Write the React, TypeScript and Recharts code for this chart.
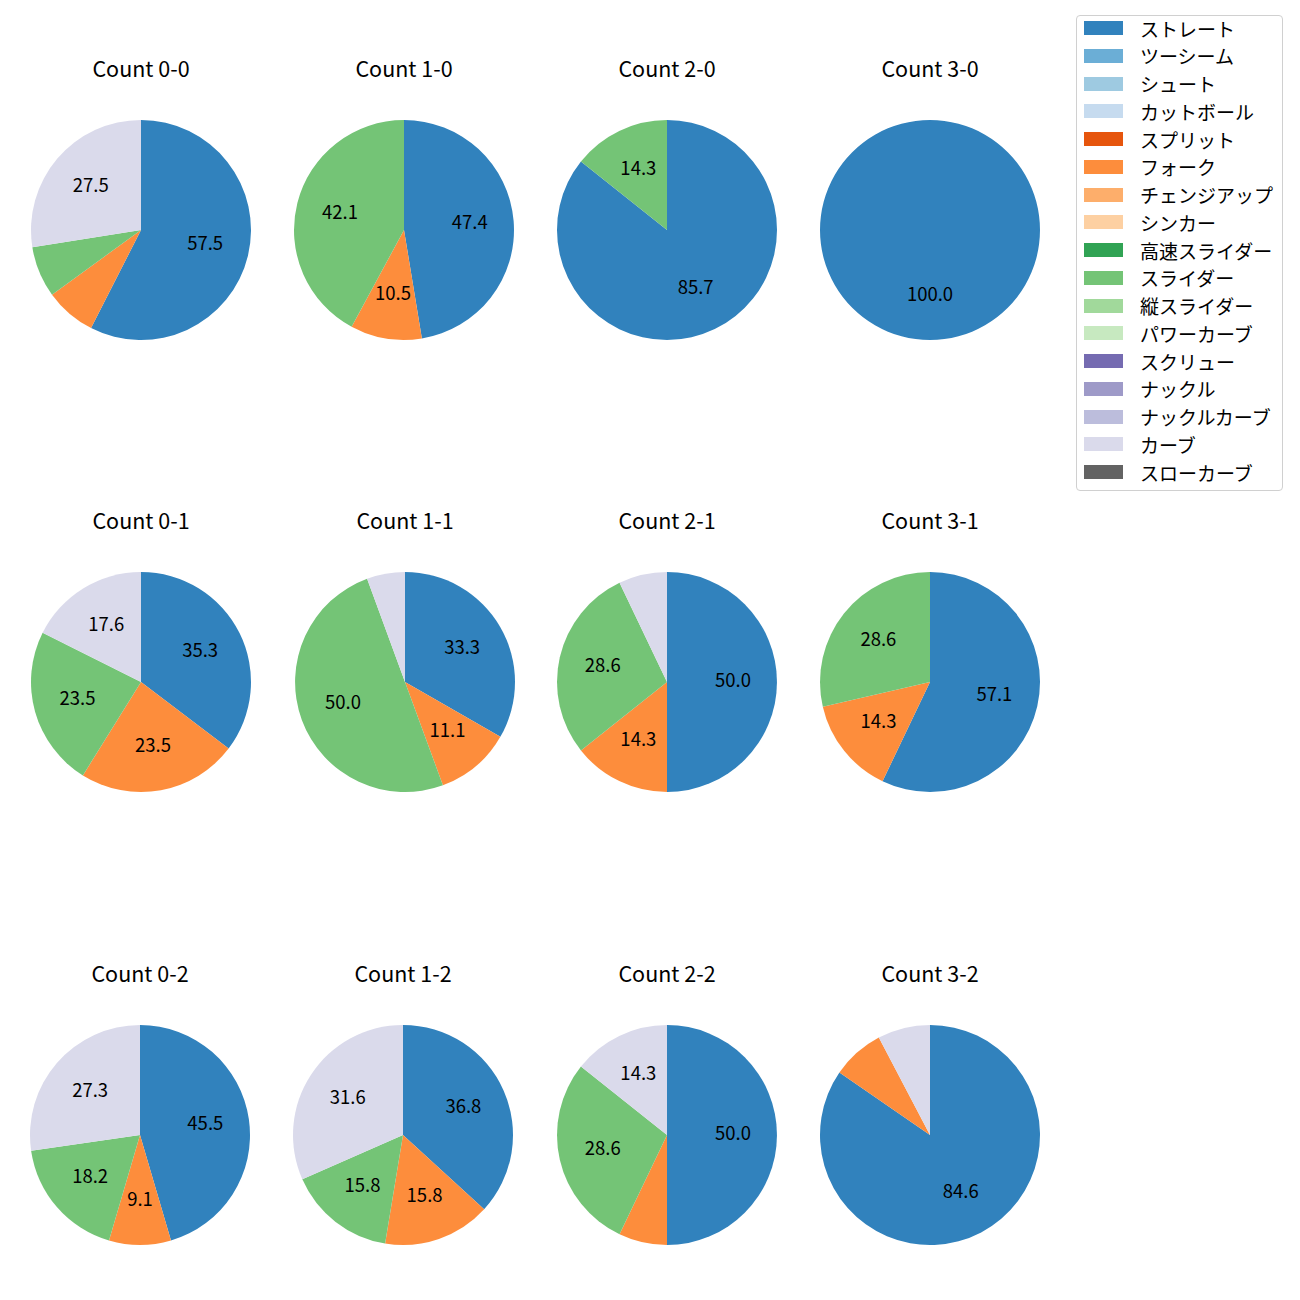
import React from 'react';
import { PieChart, Pie, Cell } from 'recharts';

const pitchTypes = [
  'ストレート', 'ツーシーム', 'シュート', 'カットボール', 'スプリット', 'フォーク',
  'チェンジアップ', 'シンカー', '高速スライダー', 'スライダー', '縦スライダー',
  'パワーカーブ', 'スクリュー', 'ナックル', 'ナックルカーブ', 'カーブ', 'スローカーブ',
];

const pitchColors = [
  '#3182bd', '#6baed6', '#9ecae1', '#c6dbef', '#e6550d', '#fd8d3c',
  '#fdae6b', '#fdd0a2', '#31a354', '#74c476', '#a1d99b',
  '#c7e9c0', '#756bb1', '#9e9ac8', '#bcbddc', '#dadaeb', '#636363',
];

// share (%) per pitch type for each count
const count00 = [{ name: 'ストレート', value: 57.5 }, { name: 'フォーク', value: 7.5 }, { name: 'スライダー', value: 7.5 }, { name: 'カーブ', value: 27.5 }];
const count10 = [{ name: 'ストレート', value: 47.4 }, { name: 'フォーク', value: 10.5 }, { name: 'スライダー', value: 42.1 }];
const count20 = [{ name: 'ストレート', value: 85.7 }, { name: 'スライダー', value: 14.3 }];
const count30 = [{ name: 'ストレート', value: 100.0 }];
const count01 = [{ name: 'ストレート', value: 35.3 }, { name: 'フォーク', value: 23.5 }, { name: 'スライダー', value: 23.5 }, { name: 'カーブ', value: 17.6 }];
const count11 = [{ name: 'ストレート', value: 33.3 }, { name: 'フォーク', value: 11.1 }, { name: 'スライダー', value: 50.0 }, { name: 'カーブ', value: 5.6 }];
const count21 = [{ name: 'ストレート', value: 50.0 }, { name: 'フォーク', value: 14.3 }, { name: 'スライダー', value: 28.6 }, { name: 'カーブ', value: 7.1 }];
const count31 = [{ name: 'ストレート', value: 57.1 }, { name: 'フォーク', value: 14.3 }, { name: 'スライダー', value: 28.6 }];
const count02 = [{ name: 'ストレート', value: 45.5 }, { name: 'フォーク', value: 9.1 }, { name: 'スライダー', value: 18.2 }, { name: 'カーブ', value: 27.3 }];
const count12 = [{ name: 'ストレート', value: 36.8 }, { name: 'フォーク', value: 15.8 }, { name: 'スライダー', value: 15.8 }, { name: 'カーブ', value: 31.6 }];
const count22 = [{ name: 'ストレート', value: 50.0 }, { name: 'フォーク', value: 7.1 }, { name: 'スライダー', value: 28.6 }, { name: 'カーブ', value: 14.3 }];
const count32 = [{ name: 'ストレート', value: 84.6 }, { name: 'フォーク', value: 7.7 }, { name: 'カーブ', value: 7.7 }];

const charts = [
  { title: 'Count 0-0', data: count00, x: 141, y: 230 },
  { title: 'Count 1-0', data: count10, x: 404, y: 230 },
  { title: 'Count 2-0', data: count20, x: 667, y: 230 },
  { title: 'Count 3-0', data: count30, x: 930, y: 230 },
  { title: 'Count 0-1', data: count01, x: 141, y: 682 },
  { title: 'Count 1-1', data: count11, x: 405, y: 682 },
  { title: 'Count 2-1', data: count21, x: 667, y: 682 },
  { title: 'Count 3-1', data: count31, x: 930, y: 682 },
  { title: 'Count 0-2', data: count02, x: 140, y: 1135 },
  { title: 'Count 1-2', data: count12, x: 403, y: 1135 },
  { title: 'Count 2-2', data: count22, x: 667, y: 1135 },
  { title: 'Count 3-2', data: count32, x: 930, y: 1135 },
];

const RAD = Math.PI / 180;
const FONT = '"Noto Sans CJK JP", "Noto Sans", sans-serif';
const LABEL_SIZE = 18.5;

const renderLabel = (props: any) => {
  const { cx, cy, midAngle, outerRadius, value } = props;
  if (value < 8) return null;
  const r = outerRadius * 0.6;
  const x = cx + r * Math.cos(-midAngle * RAD);
  const y = cy + r * Math.sin(-midAngle * RAD);
  return (
    <text x={x} y={y + LABEL_SIZE * 0.365 - 2} textAnchor="middle" fill="#000" fontSize={LABEL_SIZE} fontFamily={FONT}>
      {value.toFixed(1)}
    </text>
  );
};

export default function App() {
  return (
    <div style={{ position: 'absolute', left: 0, top: 0, width: 1300, height: 1300, background: '#fff', fontFamily: FONT }}>
      {charts.map((c) => (
        <React.Fragment key={c.title}>
          <div
            style={{
              position: 'absolute', left: c.x - 100, top: c.y - 161 - 14, width: 200,
              lineHeight: '26px', fontSize: 21.5, textAlign: 'center', color: '#000',
            }}
          >
            {c.title}
          </div>
          <div style={{ position: 'absolute', left: c.x - 120, top: c.y - 120 }}>
            <PieChart width={240} height={240} margin={{ top: 0, right: 0, bottom: 0, left: 0 }}>
              <Pie
                data={c.data}
                dataKey="value"
                nameKey="name"
                cx={120}
                cy={120}
                outerRadius={110}
                startAngle={90}
                endAngle={-270}
                stroke="none"
                labelLine={false}
                label={renderLabel}
                isAnimationActive={false}
              >
                {c.data.map((d) => (
                  <Cell key={d.name} fill={pitchColors[pitchTypes.indexOf(d.name)]} />
                ))}
              </Pie>
            </PieChart>
          </div>
        </React.Fragment>
      ))}

      <div
        style={{
          position: 'absolute', left: 1076, top: 15, width: 205, height: 474,
          border: '1px solid #d0d0d0', borderRadius: 4, background: 'rgba(255,255,255,0.8)',
        }}
      />
      {pitchTypes.map((p, i) => (
        <div
          key={p}
          style={{
            position: 'absolute', left: 1084, top: 29 + 27.75 * i - 15, height: 28,
            display: 'flex', alignItems: 'center', fontSize: 19, color: '#000', whiteSpace: 'nowrap',
          }}
        >
          <div style={{ width: 39, height: 14, background: pitchColors[i], marginRight: 17 }} />
          <span>{p}</span>
        </div>
      ))}
    </div>
  );
}
